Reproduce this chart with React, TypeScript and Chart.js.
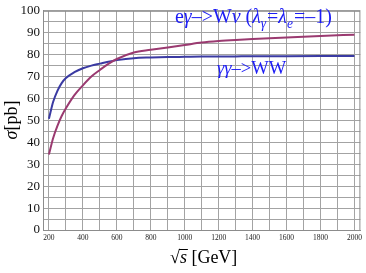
import React, { useEffect, useRef } from "react";
import { Chart, registerables } from "chart.js";

Chart.register(...registerables);

const energies = [200, 225, 250, 275, 300, 350, 400, 450, 500, 550, 600, 700, 800, 900, 1000, 1100, 1200, 1300, 1400, 1600, 1800, 2000];
const gammaGammaWW = [50.8, 58.5, 63.5, 67, 69.3, 72, 73.8, 75, 75.9, 76.8, 77.5, 78.4, 78.7, 78.9, 79.0, 79.1, 79.15, 79.2, 79.25, 79.3, 79.35, 79.4];
const eGammaWnu = [34.5, 42, 47.5, 52, 55.5, 61.5, 66, 70, 73, 75.8, 78, 81, 82.2, 83.3, 84.4, 85.5, 86.2, 86.7, 87.1, 87.8, 88.5, 89.1];

const xGridValues = [200, 300, 400, 500, 600, 700, 800, 900, 1000, 1100, 1200, 1300, 1400, 1500, 1600, 1700, 1800, 1900, 2000];
const yGridValues = [0, 5, 10, 15, 20, 25, 30, 35, 40, 45, 50, 55, 60, 65, 70, 75, 80, 85, 90, 95, 100];

const SERIF = '"Liberation Serif", "DejaVu Serif", serif';

type Run = { t: string; italic?: boolean; sub?: boolean };

function drawRuns(ctx: CanvasRenderingContext2D, x: number, y: number, runs: Run[], size: number, color: string) {
  ctx.fillStyle = color;
  ctx.textBaseline = "alphabetic";
  ctx.textAlign = "left";
  let cx = x;
  for (const r of runs) {
    const s = r.sub ? size * 0.68 : size;
    ctx.font = `${r.italic ? "italic " : ""}${s}px ${SERIF}`;
    const dy = r.sub ? size * 0.25 : 0;
    ctx.fillText(r.t, cx, y + dy);
    cx += ctx.measureText(r.t).width + (r.sub ? 1 : 0);
  }
  return cx - x;
}

function measureRuns(ctx: CanvasRenderingContext2D, runs: Run[], size: number) {
  let w = 0;
  for (const r of runs) {
    const s = r.sub ? size * 0.68 : size;
    ctx.font = `${r.italic ? "italic " : ""}${s}px ${SERIF}`;
    w += ctx.measureText(r.t).width + (r.sub ? 1 : 0);
  }
  return w;
}

const textPlugin = {
  id: "textPlugin",
  afterDraw(chart: any) {
    const ctx: CanvasRenderingContext2D = chart.ctx;
    const a = chart.chartArea;
    ctx.save();
    // frame
    ctx.strokeStyle = "#8c8c8c";
    ctx.lineWidth = 1;
    ctx.strokeRect(a.left + 0.5, a.top + 0.5, a.right - a.left - 1, a.bottom - a.top);

    // y title
    ctx.save();
    ctx.translate(17, 120);
    ctx.rotate(-Math.PI / 2);
    const yRuns: Run[] = [{ t: "σ", italic: true }, { t: "[pb]" }];
    const yw = measureRuns(ctx, yRuns, 18);
    drawRuns(ctx, -yw / 2, 0, yRuns, 18, "#000");
    ctx.restore();

    // x title
    ctx.font = `18px ${SERIF}`;
    const sx = 170;
    const by = 263;
    ctx.fillStyle = "#000";
    ctx.fillText("√", sx, by);
    const rw = ctx.measureText("√").width;
    ctx.font = `italic 18px ${SERIF}`;
    ctx.fillText("s", sx + rw, by);
    const sw = ctx.measureText("s").width;
    ctx.strokeStyle = "#000";
    ctx.lineWidth = 1;
    ctx.beginPath();
    ctx.moveTo(sx + rw - 1, by - 13.5);
    ctx.lineTo(sx + rw + sw + 1, by - 13.5);
    ctx.stroke();
    ctx.font = `18px ${SERIF}`;
    ctx.fillText(" [GeV]", sx + rw + sw, by);

    // annotations
    const blue = "#1c1cf5";
    const ann1: Run[] = [
      { t: "e" }, { t: "γ", italic: true }, { t: "–>W" }, { t: "ν", italic: true }, { t: " (" },
      { t: "λ", italic: true }, { t: "γ", italic: true, sub: true }, { t: "=" },
      { t: "λ", italic: true }, { t: "e", italic: true, sub: true }, { t: "=–1)" },
    ];
    const target1 = 157;
    let size1 = 18.5;
    size1 = size1 * target1 / measureRuns(ctx, ann1, size1);
    size1 = Math.min(Math.max(size1, 17), 20);
    drawRuns(ctx, 175, 23, ann1, size1, blue);
    const ann2: Run[] = [{ t: "γγ", italic: true }, { t: "–>WW" }];
    drawRuns(ctx, 217, 74, ann2, 18.5, blue);
    ctx.restore();
  },
};

export default function App() {
  const ref = useRef<HTMLCanvasElement | null>(null);
  useEffect(() => {
    if (!ref.current) return;
    const chart = new Chart(ref.current, {
      type: "line",
      data: {
        datasets: [
          {
            label: "eγ->Wν",
            data: energies.map((x, i) => ({ x, y: eGammaWnu[i] })),
            borderColor: "#9a3a70",
            borderWidth: 2,
            pointRadius: 0,
            cubicInterpolationMode: "monotone",
            fill: false,
          },
          {
            label: "γγ->WW",
            data: energies.map((x, i) => ({ x, y: gammaGammaWW[i] })),
            borderColor: "#3a3aa2",
            borderWidth: 2,
            pointRadius: 0,
            cubicInterpolationMode: "monotone",
            fill: false,
          },
        ],
      },
      options: {
        animation: false,
        responsive: false,
        devicePixelRatio: 1,
        layout: { padding: { top: 7, right: 3, left: 0, bottom: 0 } },
        plugins: { legend: { display: false }, tooltip: { enabled: false } },
        scales: {
          x: {
            type: "linear",
            min: 165,
            max: 2035,
            afterBuildTicks: (s: any) => {
              s.ticks = xGridValues.map((v) => ({ value: v }));
            },
            afterFit: (s: any) => {
              s.height = 43;
            },
            grid: { color: "#a3a3a3", lineWidth: 1, drawTicks: false },
            border: { display: true, color: "#8c8c8c" },
            ticks: {
              autoSkip: false,
              maxRotation: 0,
              padding: 4,
              color: "#222",
              font: { size: 7.5, family: SERIF },
              callback: (v: any) => (Number(v) % 200 === 0 ? String(v) : ""),
            },
          },
          y: {
            type: "linear",
            min: 0,
            max: 100,
            afterBuildTicks: (s: any) => {
              s.ticks = yGridValues.map((v) => ({ value: v }));
            },
            afterFit: (s: any) => {
              s.width = 43;
            },
            grid: { color: "#a3a3a3", lineWidth: 1, drawTicks: false },
            border: { display: true, color: "#8c8c8c" },
            ticks: {
              autoSkip: false,
              padding: 3,
              color: "#111",
              font: { size: 13, family: SERIF },
              callback: (v: any) => (Number(v) % 10 === 0 ? String(v) : ""),
            },
          },
        },
      },
      plugins: [textPlugin],
    } as any);
    return () => chart.destroy();
  }, []);
  return (
    <div style={{ position: "fixed", left: 0, top: 0, width: 366, height: 273, background: "#fff" }}>
      <canvas ref={ref} width={366} height={273} style={{ display: "block" }} />
    </div>
  );
}
